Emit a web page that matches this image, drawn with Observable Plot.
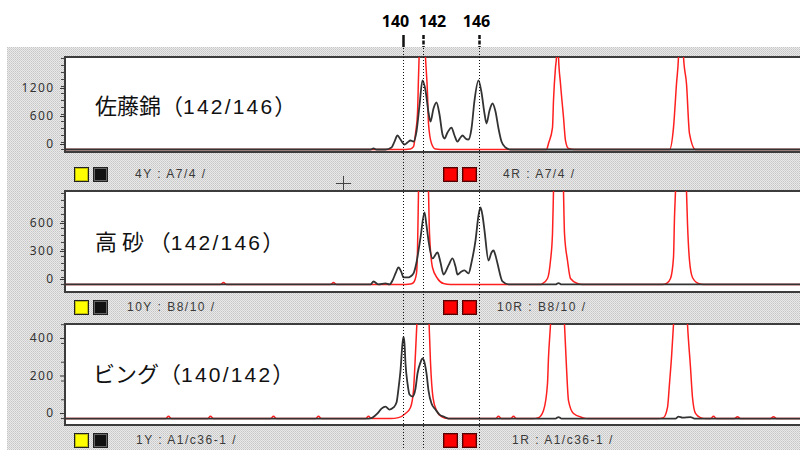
<!DOCTYPE html>
<html><head><meta charset="utf-8">
<script src="https://cdn.jsdelivr.net/npm/d3@7"></script>
<script src="https://cdn.jsdelivr.net/npm/@observablehq/plot@0.6"></script>
<style>
html,body{margin:0;padding:0}
body{width:800px;height:450px;position:relative;overflow:hidden;background:#fff;font-family:"Liberation Sans",Arial,sans-serif}
#bg{position:absolute;left:7px;top:47px;width:793px;height:403px;background-color:#dcdcdc;background-image:url("data:image/svg+xml;utf8,<svg xmlns='http://www.w3.org/2000/svg' width='2' height='2' shape-rendering='crispEdges'><rect width='2' height='2' fill='%23e9e9e9'/><rect width='1' height='1' fill='%23c6c6c6'/><rect x='1' y='1' width='1' height='1' fill='%23d2d2d2'/></svg>");background-size:2px 2px}
.frame{position:absolute;left:64px;width:736px;background:#fff;border-top:2px solid #3c3c3c;border-bottom:2px solid #3c3c3c;border-left:2px solid #3c3c3c;box-sizing:border-box}
.plot{position:absolute;left:0}
.plot svg{display:block}
.sq{position:absolute;width:13px;height:13px;border:1px solid #222;box-shadow:inset 0 0 0 1px rgba(0,0,0,0.25)}
.info{position:absolute;font-size:12px;line-height:15px;letter-spacing:1.5px;color:#3a3a3a;white-space:pre}
.name{position:absolute;line-height:30px;color:#111;white-space:pre}
.name .cjk{font-family:"Noto Sans CJK JP",sans-serif;font-size:22px}
.name .num{font-family:"Liberation Sans",Arial,sans-serif;font-size:21px;letter-spacing:2.2px}
.cross-h{position:absolute;left:336px;top:183px;width:15px;height:1px;background:#444}
.cross-v{position:absolute;left:343px;top:176px;width:1px;height:15px;background:#444}
[aria-label="y-axis tick label"] text{letter-spacing:1.4px}
</style>
</head><body>
<div id="bg"></div>
<div id="root"></div>
<script>
// ---------- DATA ----------
// x = scan number, y = fluorescence (RFU)
const xDomain = [650, 8000];

const sampleNames = ["佐藤錦", "高 砂 ", "ビング"];
const genotypes = ["142/146", "142/146", "140/142"];
const yLabels = ["4Y : A7/4 /", "10Y : B8/10 /", "1Y : A1/c36-1 /"];
const rLabels = ["4R : A7/4 /", "10R : B8/10 /", "1R : A1/c36-1 /"];

const markerSizes = [140, 142, 146];
const markerScans = [4030, 4230, 4790];

const p1Ticks = [0, 600, 1200];
const p2Ticks = [0, 300, 600];
const p3Ticks = [0, 200, 400];

const p1Black = [[650,0],[3700,0],[3730,25],[3760,0],[3850,0],[3910,43],[3940,171],[3970,300],[4000,214],[4040,107],[4070,150],[4100,193],[4130,171],[4160,386],[4190,943],[4220,1479],[4250,1264],[4280,793],[4300,600],[4330,879],[4360,1007],[4390,750],[4420,321],[4440,236],[4470,364],[4510,471],[4540,300],[4570,171],[4600,257],[4620,300],[4650,236],[4680,214],[4710,450],[4740,1050],[4780,1479],[4810,1221],[4840,771],[4860,557],[4890,836],[4920,986],[4950,814],[4980,450],[5010,171],[5050,43],[5100,0],[8000,0]];
const p1Red = [[650,0],[4050,0],[4100,10],[4130,60],[4150,343],[4170,771],[4180,1543],[4220,3500],[4250,1971],[4270,1200],[4280,557],[4310,129],[4350,10],[4400,0],
  [5460,0],[5480,130],[5520,470],[5530,1050],[5550,1760],[5560,1990],[5570,4000],[5580,1990],[5600,1410],[5630,690],[5650,190],[5680,20],[5740,0],
  [6690,0],[6730,470],[6760,1410],[6780,1990],[6805,4000],[6830,1990],[6860,1410],[6890,340],[6950,0],[8000,0]];

const p2Black = [[650,0],[3700,0],[3730,32],[3780,0],[3850,11],[3890,0],[3920,43],[3950,118],[3980,182],[4010,129],[4030,75],[4070,75],[4100,86],[4130,118],[4160,236],[4200,503],[4240,771],[4260,632],[4280,471],[4320,279],[4370,343],[4400,236],[4430,107],[4480,204],[4520,279],[4550,193],[4570,107],[4610,139],[4640,150],[4680,118],[4710,236],[4750,471],[4780,739],[4800,825],[4820,739],[4840,578],[4880,257],[4910,343],[4930,364],[4950,311],[4970,225],[5020,32],[5080,0],[5550,0],[5580,15],[5610,0],[8000,0]];
const p2Red = [[650,0],[2200,0],[2230,20],[2260,0],[3300,0],[3330,20],[3360,0],[4050,0],[4100,5],[4130,20],[4160,118],[4170,364],[4180,1000],[4230,3000],[4280,1000],[4290,546],[4320,182],[4370,64],[4430,10],[4500,0],
  [5400,0],[5420,10],[5470,64],[5500,257],[5520,546],[5530,1000],[5580,3000],[5630,1000],[5640,546],[5670,257],[5700,64],[5770,10],[5820,0],
  [6620,0],[6660,10],[6700,64],[6730,290],[6740,718],[6750,1000],[6805,3000],[6860,1000],[6870,654],[6890,257],[6920,75],[6980,10],[7030,0],[8000,0]];

const p3Black = [[650,0],[3680,0],[3720,5],[3770,27],[3810,53],[3850,64],[3890,48],[3930,59],[3960,85],[3980,160],[4000,256],[4020,400],[4030,435],[4040,400],[4050,293],[4070,187],[4090,128],[4120,117],[4150,160],[4170,240],[4200,299],[4220,320],[4240,299],[4260,240],[4280,149],[4310,80],[4350,48],[4390,21],[4430,11],[4480,0],[5550,0],[5580,8],[5610,0],[6750,0],[6780,10],[6820,5],[6900,8],[6940,0],[8000,0]];
const p3Red = [[650,0],[1650,0],[1680,12],[1710,0],[2070,0],[2100,12],[2130,0],[2700,0],[2730,12],[2760,0],[3150,0],[3180,12],[3210,0],[3650,0],[3680,12],[3710,0],[3900,0],[3980,5],[4050,27],[4100,59],[4130,150],[4150,350],[4165,520],[4225,1500],[4285,520],[4300,300],[4325,112],[4360,43],[4410,10],[4470,0],
  [4950,0],[4980,12],[5010,0],[5100,0],[5130,12],[5160,0],
  [5320,0],[5380,5],[5430,43],[5470,187],[5480,325],[5500,501],[5570,1500],[5640,501],[5660,272],[5680,96],[5730,27],[5820,5],[5880,0],
  [6570,0],[6630,5],[6670,59],[6690,187],[6710,325],[6730,501],[6800,1500],[6870,501],[6900,272],[6920,112],[6950,27],[7000,5],[7060,0],
  [7100,0],[7130,12],[7160,0],[7340,0],[7370,10],[7400,0],[7700,0],[7730,10],[7760,0],[8000,0]];

// ---------- LAYOUT ----------
const root = document.getElementById("root");
function add(html) { root.insertAdjacentHTML("beforeend", html); }

const panels = [
  {frameTop: 56, frameH: 97, top: 57, height: 95, domain: [-64, 1971], black: p1Black, red: p1Red, ticks: p1Ticks, minor: d3.range(0, 1951, 150), nameLeft: 95, nameY: 104, barTop: 167, yText: 135, rText: 503},
  {frameTop: 190, frameH: 103, top: 191, height: 101, domain: [-86, 996], black: p2Black, red: p2Red, ticks: p2Ticks, minor: d3.range(0, 976, 75), nameLeft: 95, nameY: 240, barTop: 300, yText: 127, rText: 497},
  {frameTop: 323, frameH: 103, top: 324, height: 101, domain: [-37, 501], black: p3Black, red: p3Red, ticks: p3Ticks, minor: d3.range(0, 501, 100), nameLeft: 93, nameY: 372, barTop: 433, yText: 136, rText: 512}
];

panels.forEach((p, i) => {
  add(`<div class="frame" style="top:${p.frameTop}px;height:${p.frameH}px"></div>`);
  const svg = Plot.plot({
    width: 800, height: p.height,
    marginLeft: 65, marginRight: 0, marginTop: 0, marginBottom: 0,
    x: {domain: xDomain, axis: null},
    y: {domain: p.domain, axis: null},
    style: {background: "transparent", overflow: "visible"},
    marks: [
      Plot.axisY(p.minor, {anchor: "left", tickSize: 4, tickFormat: () => "", color: "#444", label: null}),
      Plot.axisY(p.ticks, {anchor: "left", tickSize: 5, tickPadding: 6, fontSize: 12, dy: -5, color: "#333", label: null, tickFormat: d => String(d)}),
      Plot.line(p.red, {x: d => d[0], y: d => d[1], stroke: "#ff1f1f", strokeWidth: 1.5, curve: "monotone-x", clip: true}),
      Plot.line(p.black, {x: d => d[0], y: d => d[1], stroke: "#333", strokeWidth: 1.8, curve: "monotone-x", clip: true})
    ]
  });
  const wrap = document.createElement("div");
  wrap.className = "plot";
  wrap.style.top = p.top + "px";
  wrap.appendChild(svg);
  root.appendChild(wrap);

  add(`<div class="name" style="left:${p.nameLeft}px;top:${p.nameY - 15}px"><span class="cjk">${sampleNames[i]}（</span><span class="num">${genotypes[i]}</span><span class="cjk">）</span></div>`);

  add(`<div class="sq" style="left:74px;top:${p.barTop}px;background:#ffff00"></div>`);
  add(`<div class="sq" style="left:93px;top:${p.barTop}px;background:#111;box-shadow:inset 0 0 0 1px #666"></div>`);
  add(`<div class="sq" style="left:443px;top:${p.barTop}px;background:#ff0000;border-color:#500"></div>`);
  add(`<div class="sq" style="left:462px;top:${p.barTop}px;background:#ff0000;border-color:#500"></div>`);
  add(`<div class="info" style="left:${p.yText}px;top:${p.barTop}px">${yLabels[i]}</div>`);
  add(`<div class="info" style="left:${p.rText}px;top:${p.barTop}px">${rLabels[i]}</div>`);
});

add(`<div class="cross-h"></div><div class="cross-v"></div>`);

// header with allele size labels and marks
const labelDx = [-8, 9, -3];
const header = Plot.plot({
  width: 800, height: 48,
  marginLeft: 65, marginRight: 0, marginTop: 35, marginBottom: 1,
  x: {domain: xDomain, axis: null},
  style: {background: "transparent", overflow: "visible"},
  marks: [
    Plot.ruleX([markerScans[0]], {stroke: "#111", strokeWidth: 2.5}),
    Plot.ruleX(markerScans.slice(1), {stroke: "#111", strokeWidth: 2.5, strokeDasharray: "4,1.5"}),
    ...markerScans.map((s, i) => Plot.text([markerSizes[i]], {x: () => s, text: d => String(d), frameAnchor: "top", dy: -20, dx: labelDx[i], fontSize: 16, fontWeight: "bold", fill: "#000"}))
  ]
});
const hw = document.createElement("div");
hw.className = "plot"; hw.style.top = "0px";
hw.appendChild(header);
root.appendChild(hw);

// dotted marker lines through all panels
const overlay = Plot.plot({
  width: 800, height: 402,
  marginLeft: 65, marginRight: 0, marginTop: 0, marginBottom: 0,
  x: {domain: xDomain, axis: null},
  style: {background: "transparent", overflow: "visible"},
  marks: [
    Plot.ruleX(markerScans, {stroke: "#111", strokeWidth: 1, strokeDasharray: "1,2"})
  ]
});
const ow = document.createElement("div");
ow.className = "plot"; ow.style.top = "48px"; ow.style.pointerEvents = "none";
ow.appendChild(overlay);
root.appendChild(ow);
</script>
</body></html>
